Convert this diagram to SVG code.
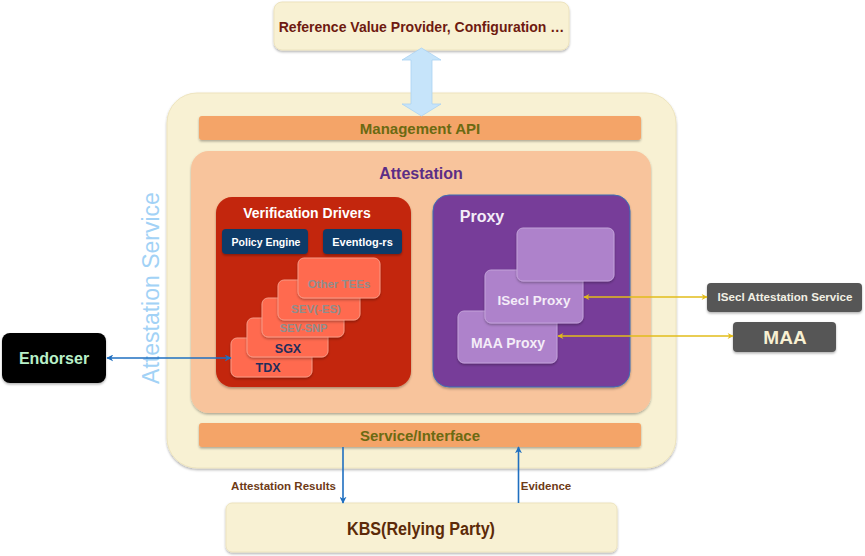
<svg xmlns="http://www.w3.org/2000/svg" width="865" height="556" viewBox="0 0 865 556">
<defs>
<filter id="sh" x="-10%" y="-10%" width="120%" height="130%">
<feDropShadow dx="0" dy="1.5" stdDeviation="1" flood-color="#000" flood-opacity="0.3"/>
</filter>
<marker id="ab" viewBox="0 0 10 10" refX="9" refY="5" markerWidth="7" markerHeight="7" markerUnits="userSpaceOnUse" orient="auto-start-reverse">
<path d="M0,0 L10,5 L0,10 L3,5 Z" fill="#1F6FC0"/>
</marker>
<marker id="ay" viewBox="0 0 10 10" refX="9" refY="5" markerWidth="7" markerHeight="6" markerUnits="userSpaceOnUse" orient="auto-start-reverse">
<path d="M0,0 L10,5 L0,10 L3,5 Z" fill="#E2BC1A"/>
</marker>
</defs>
<style>
text{font-family:"Liberation Sans",Arial,sans-serif;font-weight:bold;text-anchor:middle}
.cream{fill:#F8F1D3}
.bar{fill:#F4A467}
.bartxt{fill:#6B6A12;font-size:15px}
.card{fill:#FF6B50;stroke:#F79A86;stroke-width:1}
.gtxt{fill:#8E8E8E}
.ntxt{fill:#1F2D5C;font-size:12.5px}
.pcard{fill:#AE82CB;stroke:#C3A2DA;stroke-width:1}
.ptxt{fill:#F4EDF8}
.navy{fill:#0F3A68}
.gray{fill:#575757}
.conb{stroke:#1F6FC0;stroke-width:1.6;fill:none}
.cony{stroke:#E2BC1A;stroke-width:1.6;fill:none}
.lbl{fill:#6E3A16;font-size:11.5px}
</style>

<g id="refvalue">
<rect x="274" y="2" width="295" height="48" rx="8" class="cream" stroke="#EDE3BE" filter="url(#sh)"/>
<text x="421.5" y="32" font-size="14" fill="#6E1A10">Reference Value Provider, Configuration …</text>
</g>

<g id="attestation-service">
<rect x="167" y="93" width="509" height="375" rx="30" class="cream" stroke="#EEE4BE" stroke-width="1" filter="url(#sh)"/>
<text transform="translate(159,288) rotate(-90)" font-size="23" fill="#A2D2F6" style="font-weight:normal">Attestation Service</text>
</g>

<g id="management-api">
<rect x="199" y="116" width="442" height="24" rx="3" class="bar" filter="url(#sh)"/>
<text x="420" y="134" class="bartxt">Management API</text>
</g>

<g id="attestation">
<rect x="191" y="151" width="460" height="262" rx="18" fill="#F8C49C" filter="url(#sh)"/>
<text x="421" y="179" font-size="16" fill="#5B2D86">Attestation</text>
</g>

<g id="verification-drivers">
<rect x="216" y="197" width="195" height="190" rx="16" fill="#C3270A" filter="url(#sh)"/>
<text x="307" y="218" font-size="14" fill="#FFFFFF">Verification Drivers</text>
</g>
<g id="policy-engine">
<rect x="222" y="229" width="86" height="25" rx="4" class="navy" filter="url(#sh)"/>
<text x="266" y="245.5" font-size="10.5" fill="#FFFFFF">Policy Engine</text>
</g>
<g id="eventlog-rs">
<rect x="323" y="229" width="79" height="25" rx="4" class="navy" filter="url(#sh)"/>
<text x="362.5" y="245.5" font-size="11" fill="#FFFFFF">Eventlog-rs</text>
</g>

<g id="tdx">
<rect x="231" y="338" width="81" height="39" rx="6" class="card" filter="url(#sh)"/>
<text x="268" y="372" class="ntxt">TDX</text>
</g>
<g id="sgx">
<rect x="247" y="318" width="81" height="39" rx="6" class="card" filter="url(#sh)"/>
<text x="288" y="352.5" class="ntxt">SGX</text>
</g>
<g id="sev-snp">
<rect x="262" y="298" width="82" height="39" rx="6" class="card" filter="url(#sh)"/>
<text x="303.5" y="332" font-size="11" class="gtxt">SEV-SNP</text>
</g>
<g id="sev-es">
<rect x="278" y="280" width="82" height="40" rx="6" class="card" filter="url(#sh)"/>
<text x="316" y="313" font-size="11.5" class="gtxt">SEV(-ES)</text>
</g>
<g id="other-tees">
<rect x="298" y="258" width="82" height="40" rx="6" class="card" filter="url(#sh)"/>
<text x="339" y="287.5" font-size="11.5" class="gtxt">Other TEEs</text>
</g>

<g id="proxy">
<rect x="433" y="195" width="197" height="192" rx="16" fill="#773D99" stroke="#3C6EB4" stroke-width="1" filter="url(#sh)"/>
<text x="482" y="222" font-size="16" fill="#F4EDF8">Proxy</text>
</g>
<g id="maa-proxy">
<rect x="458" y="311" width="99" height="52" rx="6" class="pcard" filter="url(#sh)"/>
<text x="508" y="348" font-size="14" class="ptxt">MAA Proxy</text>
</g>
<g id="isecl-proxy">
<rect x="485" y="270" width="98" height="53" rx="6" class="pcard" filter="url(#sh)"/>
<text x="534" y="305" font-size="13.5" class="ptxt">ISecl Proxy</text>
</g>
<g id="proxy-blank">
<rect x="517" y="228" width="97" height="53" rx="6" class="pcard" filter="url(#sh)"/>
</g>

<g id="service-interface">
<rect x="199" y="423" width="442" height="24" rx="3" class="bar" filter="url(#sh)"/>
<text x="420" y="441" class="bartxt">Service/Interface</text>
</g>

<g id="isecl-attestation-service">
<rect x="707" y="283" width="155" height="29" rx="4" class="gray" filter="url(#sh)"/>
<text x="785" y="301" font-size="11.6" fill="#F2F0E4">ISecl Attestation Service</text>
</g>
<g id="maa">
<rect x="733" y="322" width="103" height="30" rx="4" class="gray" filter="url(#sh)"/>
<text x="785" y="344" font-size="19" fill="#F8F0D2">MAA</text>
</g>

<g id="endorser">
<rect x="2" y="333" width="104" height="50" rx="8" fill="#000000" filter="url(#sh)"/>
<text x="54" y="364" font-size="16" fill="#B8F0C8">Endorser</text>
</g>

<g id="kbs">
<rect x="226" y="503" width="391" height="49" rx="6" class="cream" stroke="#EDE3BE" filter="url(#sh)"/>
<text x="421" y="535" font-size="18" fill="#5C2A08" textLength="148" lengthAdjust="spacingAndGlyphs">KBS(Relying Party)</text>
</g>

<g id="connectors">
<path d="M421.5,48 L441,60 L432,60 L432,104 L441,104 L421.5,116 L402,104 L411,104 L411,60 L402,60 Z" fill="#C6E4FA" stroke="#A9D2F2" stroke-width="0.8"/>
<line x1="107" y1="358" x2="231" y2="358" class="conb" marker-start="url(#ab)" marker-end="url(#ab)"/>
<line x1="584" y1="297" x2="707" y2="297" class="cony" marker-start="url(#ay)" marker-end="url(#ay)"/>
<line x1="558" y1="336" x2="733" y2="336" class="cony" marker-start="url(#ay)" marker-end="url(#ay)"/>
<line x1="343" y1="447" x2="343" y2="503" class="conb" marker-end="url(#ab)"/>
<line x1="518.5" y1="503" x2="518.5" y2="447" class="conb" marker-end="url(#ab)"/>
<text x="283.5" y="490" class="lbl">Attestation Results</text>
<text x="546" y="490" class="lbl">Evidence</text>
</g>
</svg>
